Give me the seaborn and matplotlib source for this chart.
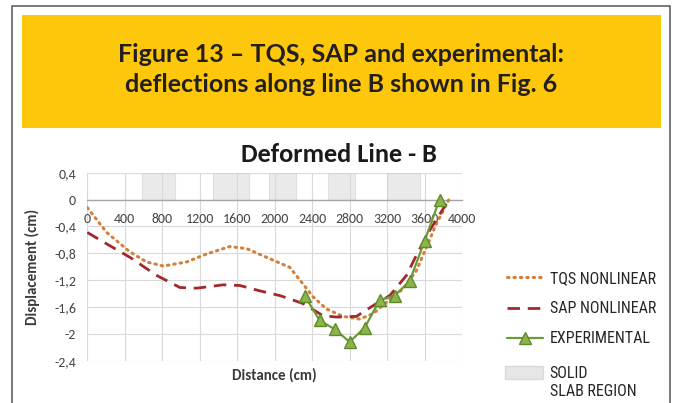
import numpy as np
import matplotlib
matplotlib.use('Agg')
import matplotlib.pyplot as plt
from matplotlib.patches import Rectangle, Patch
from matplotlib.font_manager import FontProperties
import seaborn as sns

# data (distance in cm, displacement in cm)
tqs_x = [0, 207, 455, 634, 811, 1060, 1274, 1522, 1700, 1913, 2162, 2304, 2411, 2553, 2731, 2909,
         3051, 3193, 3371, 3513, 3620, 3727, 3860]
tqs_y = [-0.12, -0.49, -0.78, -0.93, -0.99, -0.93, -0.81, -0.70, -0.73, -0.86, -1.01, -1.26, -1.45,
         -1.63, -1.74, -1.78, -1.70, -1.53, -1.33, -1.06, -0.71, -0.36, 0.0]

sap_x = [0, 207, 455, 740, 989, 1167, 1451, 1629, 1842, 2055, 2162, 2304, 2517, 2660, 2873, 3051,
         3229, 3407, 3513, 3655, 3860]
sap_y = [-0.49, -0.66, -0.86, -1.13, -1.31, -1.32, -1.27, -1.28, -1.36, -1.43, -1.48, -1.55, -1.73,
         -1.75, -1.74, -1.58, -1.43, -1.13, -0.83, -0.46, 0.0]

exp_x = [2320, 2480, 2640, 2800, 2960, 3120, 3280, 3440, 3600, 3760]
exp_y = [-1.43, -1.80, -1.93, -2.12, -1.91, -1.50, -1.43, -1.22, -0.62, 0.0]

slab_start = [580, 1340, 1940, 2570, 3200]
slab_end = [935, 1730, 2225, 2855, 3555]

x_ticks = [0, 400, 800, 1200, 1600, 2000, 2400, 2800, 3200, 3600, 4000]
y_ticks = [0.4, 0, -0.4, -0.8, -1.2, -1.6, -2, -2.4]
y_tick_labels = ['0,4', '0', '-0,4', '-0,8', '-1,2', '-1,6', '-2', '-2,4']

sns.set_style('white')
plt.rcParams['font.family'] = ['Carlito', 'DejaVu Sans']

fig = plt.figure(figsize=(6.73, 4.03), dpi=100)

# outer frame and yellow caption box
fig.add_artist(Rectangle((12 / 673, -0.1), 658 / 673, 1.086, transform=fig.transFigure,
                         fill=False, edgecolor='#555555', linewidth=1.1))
fig.add_artist(Rectangle((22 / 673, 1 - 127.7 / 403), 638.7 / 673, 112.7 / 403,
                         transform=fig.transFigure, facecolor='#FDC70C', edgecolor='none'))
cap_font = FontProperties(family=['Lato', 'DejaVu Sans'], weight='bold', size=18)
fig.text(0.5074, 1 - 61.7 / 403, 'Figure 13 – TQS, SAP and experimental:', ha='center', va='baseline',
         fontproperties=cap_font, color='#231F20')
fig.text(0.5074, 1 - 91.7 / 403, 'deflections along line B shown in Fig. 6', ha='center', va='baseline',
         fontproperties=cap_font, color='#231F20')

ax = fig.add_axes([87.3 / 673, 1 - 360.7 / 403, 374.7 / 673, 188 / 403])

for x0, x1 in zip(slab_start, slab_end):
    ax.add_patch(Rectangle((x0, 0), x1 - x0, 0.4, facecolor='#D9D9D9', alpha=0.55,
                           edgecolor='#D0D0D0', linewidth=0.8, zorder=1))

sns.lineplot(x=tqs_x, y=tqs_y, ax=ax, color='#D2803A', linestyle=(0, (0.5, 1.6)), linewidth=2.2,
             dash_capstyle='round', label='TQS NONLINEAR', zorder=3)
sns.lineplot(x=sap_x, y=sap_y, ax=ax, color='#A3282B', linestyle=(0, (4.5, 2.8)), linewidth=2.0,
             label='SAP NONLINEAR', zorder=3)
sns.lineplot(x=exp_x, y=exp_y, ax=ax, color='#6B9B37', linewidth=1.6, marker='^', markersize=9,
             markerfacecolor='#8DB447', markeredgecolor='#5E8A2E', markeredgewidth=1.0,
             label='EXPERIMENTAL', zorder=4)

ax.set_xlim(0, 4000)
ax.set_ylim(-2.4, 0.4)
ax.set_xticks(x_ticks)
ax.set_yticks(y_ticks)
ax.set_yticklabels(y_tick_labels)
ax.grid(True, color='#D9D9D9', linewidth=0.8)
for s in ['top', 'right', 'left']:
    ax.spines[s].set_visible(False)
ax.spines['bottom'].set_position(('data', 0))
ax.spines['bottom'].set_color('#A6A6A6')
ax.spines['bottom'].set_linewidth(1.0)
ax.spines['bottom'].set_zorder(2)
ax.tick_params(axis='both', length=0, labelsize=10, labelcolor='#454545')
ax.tick_params(axis='x', pad=10)
ax.tick_params(axis='y', pad=8)

ax.set_xlabel('Distance (cm)', fontsize=10.8, fontweight='bold', color='#3A3A3A')
ax.set_ylabel('Displacement (cm)', fontsize=10.8, fontweight='bold', color='#3A3A3A')
ax.xaxis.set_label_coords(0.5, -0.076)
ax.yaxis.set_label_coords(-0.145, 0.5)
ax.xaxis.label.set_va('center')
ax.yaxis.label.set_va('center')

fig.text(339 / 673, 1 - 162.3 / 403, 'Deformed Line - B', ha='center', va='baseline',
         fontsize=19, fontweight='bold', color='#1A1A1A')

leg_font = FontProperties(family=['Roboto Condensed', 'DejaVu Sans'], size=11.5)
handles, labels = ax.get_legend_handles_labels()
ax.legend(handles, labels, loc='upper left', bbox_to_anchor=(506.7 / 673, 1 - 271 / 403),
          bbox_transform=fig.transFigure, frameon=False, borderpad=0, borderaxespad=0,
          handlelength=2.3, handletextpad=0.4, labelspacing=0.95, prop=leg_font,
          labelcolor='#262626')
fig.legend([Patch(facecolor='#E6E6E6', edgecolor='#D9D9D9')], ['SOLID'], loc='upper left',
           bbox_to_anchor=(505 / 673, 1 - 366 / 403), frameon=False, borderpad=0,
           borderaxespad=0, handlelength=2.4, handleheight=0.9, handletextpad=0.4,
           prop=leg_font, labelcolor='#262626')
fig.text(550 / 673, 1 - 395.7 / 403, 'SLAB REGION', ha='left', va='baseline',
         fontproperties=leg_font, color='#262626')

fig.savefig('out.png', dpi=100)
